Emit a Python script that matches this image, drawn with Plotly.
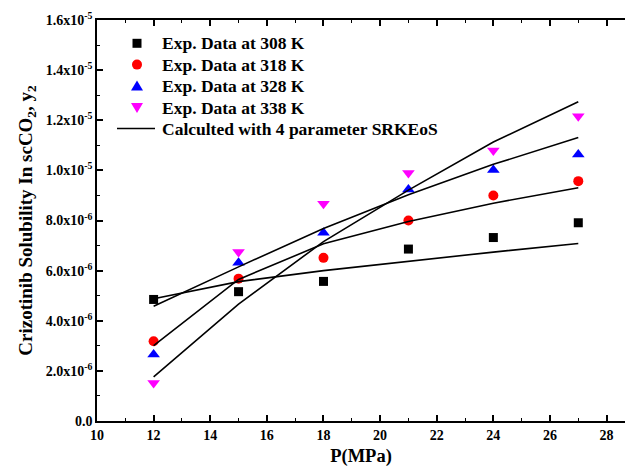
import plotly.graph_objects as go

# Pressure (MPa)
pressure = [12, 15, 18, 21, 24, 27]

# Experimental solubility (units of 1e-6 mole fraction)
exp_308 = [4.85, 5.16, 5.57, 6.86, 7.32, 7.91]
exp_318 = [3.18, 5.68, 6.51, 8.00, 9.00, 9.57]
exp_328 = [2.65, 6.31, 7.51, 9.24, 10.01, 10.63]
exp_338 = [1.52, 6.74, 8.67, 9.90, 10.79, 12.16]

# Calculated with 4 parameter SRKEoS (units of 1e-6)
calc_308 = [4.88, 5.56, 6.00, 6.37, 6.74, 7.08]
calc_318 = [3.01, 5.65, 7.07, 7.96, 8.69, 9.31]
calc_328 = [4.58, 6.15, 7.68, 9.03, 10.24, 11.31]
calc_338 = [1.76, 4.66, 7.16, 9.21, 11.13, 12.74]

SCALE = 1e-6

x_ticks = [10, 12, 14, 16, 18, 20, 22, 24, 26, 28]
y_tickvals = [0, 2e-6, 4e-6, 6e-6, 8e-6, 1.0e-5, 1.2e-5, 1.4e-5, 1.6e-5]
y_ticktext = ["0.0", "2.0x10<sup>-6</sup>", "4.0x10<sup>-6</sup>", "6.0x10<sup>-6</sup>",
              "8.0x10<sup>-6</sup>", "1.0x10<sup>-5</sup>", "1.2x10<sup>-5</sup>",
              "1.4x10<sup>-5</sup>", "1.6x10<sup>-5</sup>"]

legend_labels = ["Exp. Data at 308 K", "Exp. Data at 318 K", "Exp. Data at 328 K",
                 "Exp. Data at 338 K", "Calculted with 4 parameter SRKEoS"]

FONT = "Liberation Serif, Times New Roman, serif"

# plot area geometry (pixels)
W, H = 625, 475
ML, MR, MT, MB = 97, 0, 20, 54
PW, PH = W - ML - MR, H - MT - MB


def px_x(px):
    return (px - ML) / PW


def px_y(py):
    return (H - MB - py) / PH


fig = go.Figure()

series = [
    (legend_labels[0], exp_308, "square", "black", 9),
    (legend_labels[1], exp_318, "circle", "red", 10),
    (legend_labels[2], exp_328, "triangle-up", "blue", 11),
    (legend_labels[3], exp_338, "triangle-down", "magenta", 11),
]
for name, vals, sym, col, size in series:
    fig.add_trace(go.Scatter(
        x=pressure, y=[v * SCALE for v in vals], mode="markers", name=name,
        marker=dict(symbol=sym, color=col, size=size, line=dict(width=0)),
        showlegend=False,
    ))

for i, vals in enumerate([calc_308, calc_318, calc_328, calc_338]):
    fig.add_trace(go.Scatter(
        x=pressure, y=[v * SCALE for v in vals], mode="lines",
        name=legend_labels[4], showlegend=False,
        line=dict(color="black", width=1.6),
    ))

# ---- custom legend (text as annotations, symbols as pixel-sized shapes) ----
row_y = [43.3, 64.6, 86.0, 107.5, 128.5]
sym_x = px_x(137)
text_x = px_x(160)
for lab, ry in zip(legend_labels, row_y):
    fig.add_annotation(
        text=lab, xref="paper", yref="paper", x=text_x, y=px_y(ry),
        xanchor="left", yanchor="middle", showarrow=False,
        font=dict(family=FONT, size=17.5, color="black", weight="bold"),
    )

common_shape = dict(xref="paper", yref="paper", xsizemode="pixel", ysizemode="pixel",
                    xanchor=sym_x, line=dict(width=0))
fig.add_shape(type="rect", x0=-4.5, x1=4.5, y0=-4.5, y1=4.5, yanchor=px_y(row_y[0]),
              fillcolor="black", **common_shape)
fig.add_shape(type="circle", x0=-5, x1=5, y0=-5, y1=5, yanchor=px_y(row_y[1]),
              fillcolor="red", **common_shape)
fig.add_shape(type="path", path="M -6,-4.5 L 6,-4.5 L 0,5.5 Z", yanchor=px_y(row_y[2]),
              fillcolor="blue", **common_shape)
fig.add_shape(type="path", path="M -6,4.5 L 6,4.5 L 0,-5.5 Z", yanchor=px_y(row_y[3]),
              fillcolor="magenta", **common_shape)
fig.add_shape(type="line", xref="paper", yref="paper", x0=px_x(117), x1=px_x(155),
              y0=px_y(row_y[4]), y1=px_y(row_y[4]), line=dict(color="black", width=1.6))

axis_common = dict(
    showline=True, linecolor="black", linewidth=1.5,
    ticks="inside", ticklen=6, tickwidth=1.5, tickcolor="black",
    showgrid=False, zeroline=False,
    tickfont=dict(family=FONT, size=14, color="black", weight="bold"),
)

fig.update_xaxes(
    **axis_common, range=[10, 28.65], tickvals=x_ticks, mirror="ticks",
    minor=dict(ticks="inside", ticklen=3, tickwidth=1.2, tickcolor="black", dtick=1),
    title=dict(text="P(MPa)", font=dict(family=FONT, size=18.5, color="black", weight="bold"),
               standoff=8),
)
fig.update_yaxes(
    **axis_common, range=[0, 1.6e-5], tickvals=y_tickvals, ticktext=y_ticktext,
    minor=dict(ticks="inside", ticklen=3, tickwidth=1.2, tickcolor="black", dtick=1e-6),
    title=dict(text="Crizotinib Solubility In scCO<sub>2</sub>, y<sub>2</sub>",
               font=dict(family=FONT, size=19, color="black", weight="bold"), standoff=8),
)

fig.update_layout(
    width=W, height=H,
    margin=dict(l=ML, r=MR, t=MT, b=MB),
    paper_bgcolor="white", plot_bgcolor="white",
    showlegend=False,
)

fig.write_html("out.html")
